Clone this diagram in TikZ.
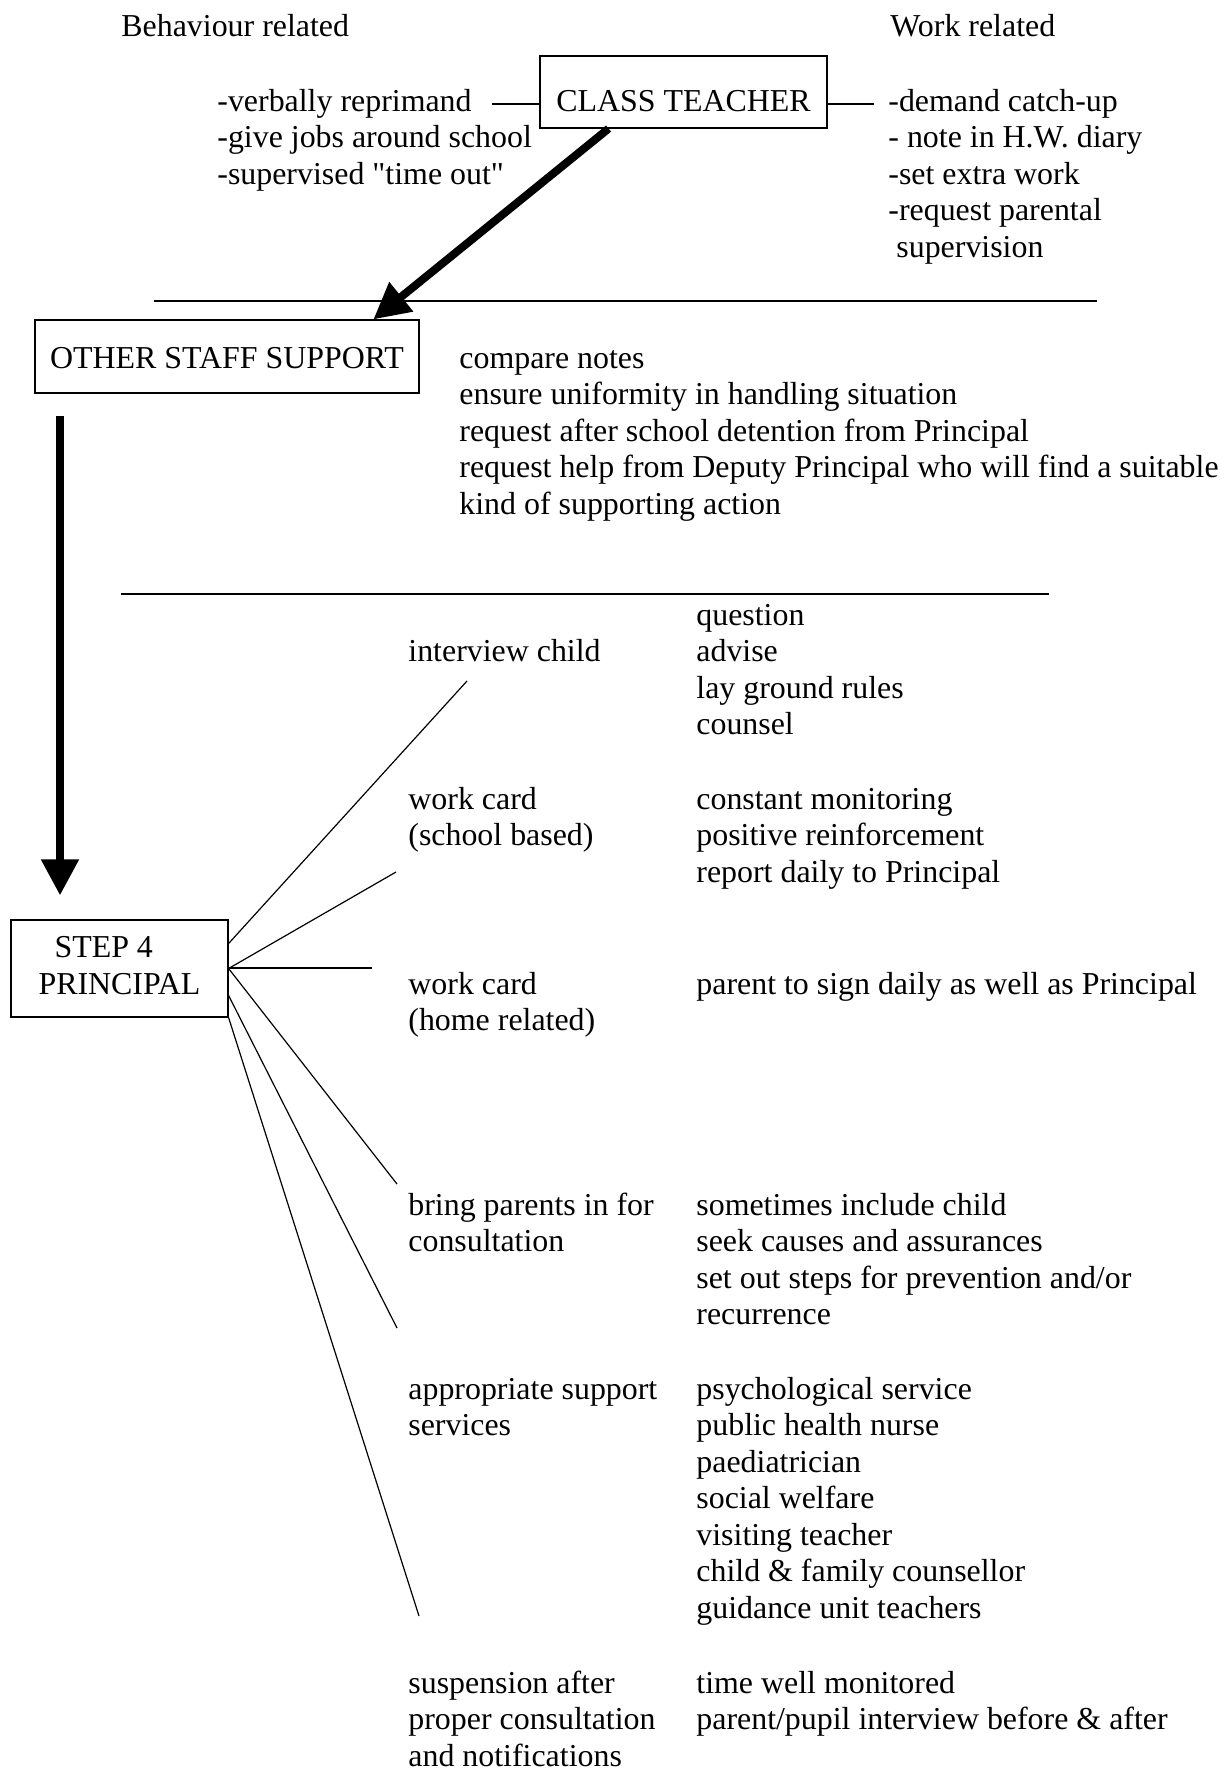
\documentclass[tikz,border=0pt]{standalone}
\usepackage{fontspec}
\setmainfont{Liberation Serif}
\usepackage{tikz}
\usetikzlibrary{arrows.meta,positioning,calc}
\newcommand{\diagfont}{\fontsize{15.95pt}{18.25pt}\selectfont}

\begin{document}
\begin{tikzpicture}[
  x=0.5pt, y=-0.5pt,
  box/.style={rectangle, draw, line width=0.6pt, anchor=base, inner sep=0pt, font=\diagfont},
  txt/.style={anchor=base west, align=left, inner sep=0pt, font=\diagfont},
  link/.style={line width=0.6pt},
  bigarrow/.style={line width=4pt, -{Triangle[width=18pt,length=18pt]}}
]
  \fill[white] (0,0) rectangle (1224,1769);
  \useasboundingbox (0,0) rectangle (1224,1769);

  % step 1: class teacher (text nodes sit on their last line)
  \node[txt] (behav) at (121,36) {Behaviour related};
  \node[txt] (work) at (890,36) {Work related};
  \node[box, minimum width=143.5pt, text height=27.5pt, text depth=8.5pt] (teacher) at (683.5,111) {CLASS TEACHER};
  \node[txt] (behlist) at (217,184) {-verbally reprimand\\-give jobs around school\\-supervised \textquotedbl time out\textquotedbl};
  \node[txt] (worklist) at (888,257) {-demand catch-up\\- note in H.W. diary\\-set extra work\\-request parental\\\hspace*{4pt}supervision};
  \coordinate (tl) at (492,104);
  \coordinate (tr) at (874,104);
  \draw[link] (tl) -- (tl -| teacher.west);
  \draw[link] (teacher.east |- tr) -- (tr);

  \draw[link] (154,301) -- (1097,301);

  % step 2: other staff
  \node[box, minimum width=192pt, text height=24pt, text depth=12.5pt] (staff) at (227,368) {OTHER STAFF SUPPORT};
  \node[txt] (stafflist) at (459,514) {compare notes\\ensure uniformity in handling situation\\request after school detention from Principal\\request help from Deputy Principal who will find a suitable\\kind of supporting action};
  \draw[bigarrow] ($(teacher.south west)!0.24!(teacher.south east)$) -- ($(staff.north west)!0.88!(staff.north east)$);

  \draw[link] (121,594) -- (1049,594);

  % step 4: principal
  \node[box, minimum width=108.5pt, align=left, text height=37pt, text depth=11.5pt] (principal) at (119.5,994) {\hspace*{8pt}STEP 4\\PRINCIPAL};
  \coordinate (downstart) at (60,416);
  \draw[bigarrow] (downstart) -- ([yshift=12pt]downstart |- principal.north);

  \node[txt] (interview) at (408,661) {interview child};
  \node[txt] (intlist) at (696,734.5) {question\\advise\\lay ground rules\\counsel};
  \node[txt] (schoolcard) at (408,845.5) {work card\\(school based)};
  \node[txt] (schoollist) at (696,882) {constant monitoring\\positive reinforcement\\report daily to Principal};
  \node[txt] (homecard) at (408,1030.5) {work card\\(home related)};
  \node[txt] (homelist) at (696,994) {parent to sign daily as well as Principal};
  \node[txt] (parents) at (408,1251.5) {bring parents in for\\consultation};
  \node[txt] (parentlist) at (696,1324.5) {sometimes include child\\seek causes and assurances\\set out steps for prevention and/or\\recurrence};
  \node[txt] (support) at (408,1435.5) {appropriate support\\services};
  \node[txt] (supportlist) at (696,1618) {psychological service\\public health nurse\\paediatrician\\social welfare\\visiting teacher\\child \& family counsellor\\guidance unit teachers};
  \node[txt] (suspend) at (408,1766) {suspension after\\proper consultation\\and notifications};
  \node[txt] (suspendlist) at (696,1729.5) {time well monitored\\parent/pupil interview before \& after};

  % spokes
  \coordinate (e1) at (467,681);
  \coordinate (e2) at (396,872);
  \coordinate (e3) at (372,968);
  \coordinate (e4) at (397,1184);
  \coordinate (e5) at (397,1328);
  \coordinate (e6) at (419,1616);
  \draw[link] ([yshift=12.5pt]principal.east) -- (e1);
  \draw[link] (principal.east) -- (e2);
  \draw[link] (principal.east) -- (e3 -| principal.east) -- (e3);
  \draw[link] (principal.east) -- (e4);
  \draw[link] ([yshift=-13.5pt]principal.east) -- (e5);
  \draw[link] (principal.south east) -- (e6);
\end{tikzpicture}
\end{document}
